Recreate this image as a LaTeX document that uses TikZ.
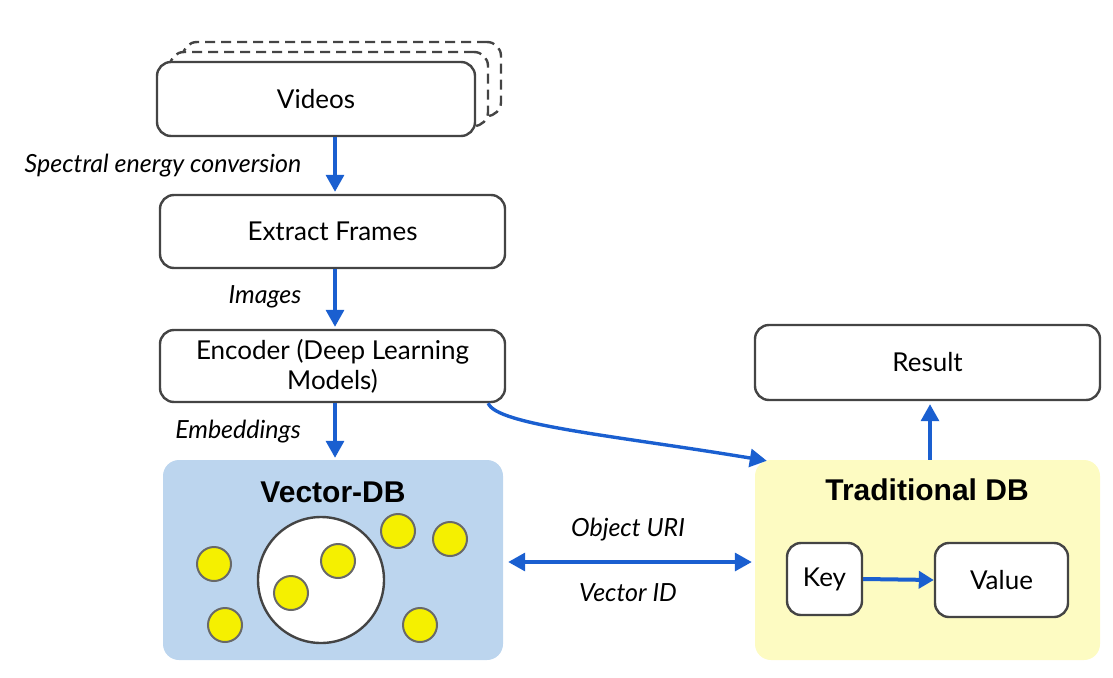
\documentclass[tikz,border=0pt]{standalone}
\usepackage{fontspec}
\setmainfont{Lato}
\newfontfamily\titlefont{Liberation Sans}
\usetikzlibrary{arrows.meta,calc}
\definecolor{arrowblue}{HTML}{1A5FD0}
\definecolor{boxline}{HTML}{444444}
\definecolor{vdbfill}{HTML}{BCD5EE}
\definecolor{tdbfill}{HTML}{FDFBC2}
\definecolor{dotfill}{HTML}{F5F000}
\tikzset{
  procbox/.style={draw=boxline, line width=2.4pt, rounded corners=14pt, fill=white, align=center, font=\fontsize{26}{30}\selectfont, inner sep=0pt},
  dbbox/.style={rounded corners=16pt, inner sep=0pt},
  flow/.style={draw=arrowblue, line width=3.4pt, -{Triangle[length=17pt,width=18pt]}},
  lbl/.style={font=\fontsize{25}{28}\selectfont\itshape},
  dbtitle/.style={font=\fontsize{30}{34}\selectfont\titlefont\bfseries},
  dot/.style={circle, draw=boxline!80, line width=2pt, fill=dotfill, minimum size=34pt, inner sep=0pt},
}
\begin{document}
\begin{tikzpicture}[x=1pt,y=-1pt]
\useasboundingbox (0,0) rectangle (1113,677);
% Videos stack
\node[procbox, dash pattern=on 10pt off 6pt, minimum width=318pt, minimum height=74pt] (vback2) at (342,79) {};
\node[procbox, dash pattern=on 10pt off 6pt, minimum width=318pt, minimum height=74pt] (vback1) at (329,89) {};
\node[procbox, minimum width=318pt, minimum height=74pt] (videos) at (316,99) {Videos};
\node[procbox, minimum width=345pt, minimum height=73pt] (extract) at (332.5,231.5) {Extract Frames};
\node[procbox, minimum width=345pt, minimum height=72pt] (enc) at (332.5,366) {Encoder (Deep Learning\\Models)};
\node[procbox, minimum width=345pt, minimum height=75pt] (result) at (927.5,362.5) {Result};
% Vector DB
\node[dbbox, fill=vdbfill, minimum width=340pt, minimum height=200pt] (vdb) at (333,560) {};
\node[dbtitle] (vdbt) at (333,492) {Vector-DB};
\node[circle, draw=boxline, line width=2.4pt, fill=white, minimum size=126pt, inner sep=0pt] (cl) at (321,580) {};
\node[dot] (d1) at (214,564) {};
\node[dot] (d2) at (225,625) {};
\node[dot] (d3) at (291,593) {};
\node[dot] (d4) at (338,561) {};
\node[dot] (d5) at (398,531) {};
\node[dot] (d6) at (450,539) {};
\node[dot] (d7) at (420,625) {};
% Traditional DB
\node[dbbox, fill=tdbfill, minimum width=345pt, minimum height=200pt] (tdb) at (927.5,560) {};
\node[dbtitle] (tdbt) at (927,490) {Traditional DB};
\node[procbox, minimum width=75pt, minimum height=72pt] (key) at (824.5,579) {Key};
\node[procbox, minimum width=133pt, minimum height=74pt] (value) at (1001.5,580) {Value};
% Arrows
\draw[flow] (videos.south -| 335,0) -- ($(extract.north -| 335,0)+(0,-2)$);
\draw[flow] (extract.south -| 335,0) -- ($(enc.north -| 335,0)+(0,-2)$);
\draw[flow] (enc.south -| 335,0) -- ($(vdb.north -| 335,0)+(0,-2)$);
\coordinate (cs) at ($(enc.south east)+(-18,0)$);
\coordinate (ce) at ($(tdb.north west)+(12,1)$);
\draw[flow] (cs) .. controls ($(cs)+(8,22)$) and ($(ce)+(-150,-25)$) .. (ce);
\draw[flow] (tdb.north -| 930,0) -- ($(result.south -| 930,0)+(0,3)$);
\draw[flow, {Triangle[length=17pt,width=18pt]}-{Triangle[length=17pt,width=18pt]}] ($(vdb.east)+(5,2)$) -- ($(tdb.west)+(-3,2)$);
\draw[flow, line width=4pt, -{Triangle[length=15pt,width=17pt]}] (key.east) -- (value.west);
% Labels
\node[lbl] (l1) at (163,166) {Spectral energy conversion};
\node[lbl] (l2) at (265,297) {Images};
\node[lbl] (l3) at (238,432) {Embeddings};
\node[lbl] (l4) at (628,530) {Object URI};
\node[lbl] (l5) at (628,593) {Vector ID};
\end{tikzpicture}
\end{document}
